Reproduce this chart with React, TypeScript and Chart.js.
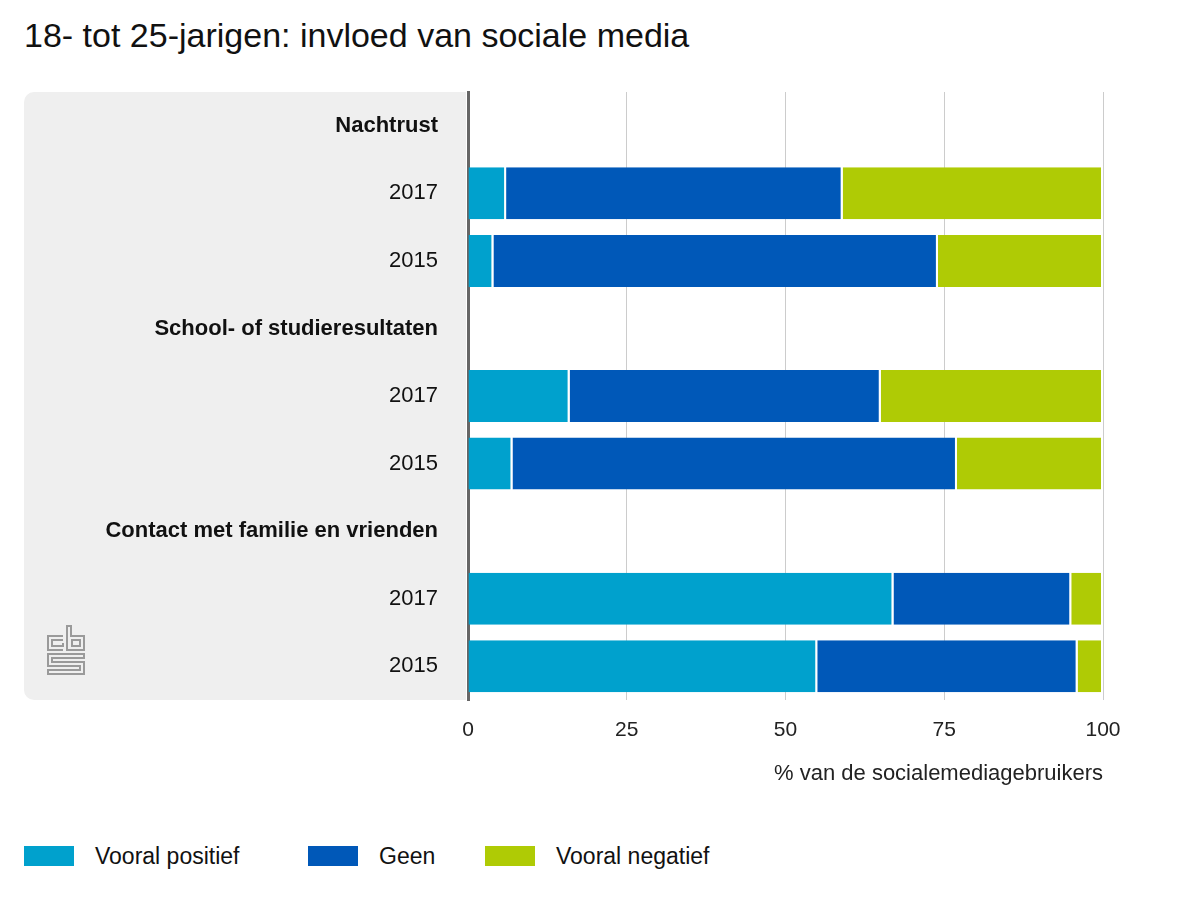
import React, { useEffect, useRef } from "react";
import { Chart, registerables } from "chart.js";

Chart.register(...registerables);

const categories = [
  "Nachtrust",
  "2017",
  "2015",
  "School- of studieresultaten",
  "2017",
  "2015",
  "Contact met familie en vrienden",
  "2017",
  "2015",
];
const headerRows = [true, false, false, true, false, false, true, false, false];
const vooralPositief = [null, 6, 4, null, 16, 7, null, 67, 55];
const geen = [null, 53, 70, null, 49, 70, null, 28, 41];
const vooralNegatief = [null, 41, 26, null, 35, 23, null, 5, 4];
const xTicks = [0, 25, 50, 75, 100];
const seriesNames = ["Vooral positief", "Geen", "Vooral negatief"];
const seriesColors = ["#00a1cd", "#0058b8", "#afcb05"];

const FONT = '"Liberation Sans", Arial, sans-serif';

const panelPlugin = {
  id: "panel",
  beforeDraw(chart: any) {
    const { ctx, chartArea } = chart;
    const x0 = 24;
    const x1 = chartArea.left - 2;
    const y0 = chartArea.top;
    const y1 = chartArea.bottom;
    const r = 10;
    ctx.save();
    ctx.fillStyle = "#efefef";
    ctx.beginPath();
    ctx.moveTo(x1, y0);
    ctx.lineTo(x0 + r, y0);
    ctx.arcTo(x0, y0, x0, y0 + r, r);
    ctx.lineTo(x0, y1 - r);
    ctx.arcTo(x0, y1, x0 + r, y1, r);
    ctx.lineTo(x1, y1);
    ctx.closePath();
    ctx.fill();

    // cbs logo
    const lx = 48;
    const ly = y1 - 74;
    ctx.strokeStyle = "#9a9a9a";
    ctx.lineWidth = 2;
    ctx.lineJoin = "miter";
    ctx.beginPath();
    // c
    ctx.moveTo(lx + 15, ly + 10);
    ctx.lineTo(lx, ly + 10);
    ctx.lineTo(lx, ly + 24);
    ctx.lineTo(lx + 15, ly + 24);
    ctx.moveTo(lx + 15, ly + 14);
    ctx.lineTo(lx + 4, ly + 14);
    ctx.lineTo(lx + 4, ly + 20);
    ctx.lineTo(lx + 15, ly + 20);
    ctx.lineTo(lx + 15, ly + 17);
    // b
    ctx.moveTo(lx + 19, ly);
    ctx.lineTo(lx + 19, ly + 24);
    ctx.lineTo(lx + 36, ly + 24);
    ctx.lineTo(lx + 36, ly + 10);
    ctx.lineTo(lx + 23, ly + 10);
    ctx.lineTo(lx + 23, ly);
    ctx.closePath();
    ctx.rect(lx + 24, ly + 14, 8, 6);
    // S
    ctx.moveTo(lx, ly + 28);
    ctx.lineTo(lx + 36, ly + 28);
    ctx.lineTo(lx + 36, ly + 32);
    ctx.lineTo(lx + 4, ly + 32);
    ctx.lineTo(lx + 4, ly + 36);
    ctx.lineTo(lx + 36, ly + 36);
    ctx.lineTo(lx + 36, ly + 48);
    ctx.lineTo(lx, ly + 48);
    ctx.lineTo(lx, ly + 44);
    ctx.lineTo(lx + 32, ly + 44);
    ctx.lineTo(lx + 32, ly + 40);
    ctx.lineTo(lx, ly + 40);
    ctx.closePath();
    ctx.stroke();
    ctx.restore();
  },
};

export default function App() {
  const canvasRef = useRef<HTMLCanvasElement | null>(null);

  useEffect(() => {
    if (!canvasRef.current) return;
    const values = [vooralPositief, geen, vooralNegatief];
    const chart = new Chart(canvasRef.current, {
      type: "bar",
      data: {
        labels: categories,
        datasets: values.map((d, i) => ({
          label: seriesNames[i],
          data: d as any,
          backgroundColor: seriesColors[i],
          borderColor: "#ffffff",
          borderWidth: { left: 0, right: 2, top: 0, bottom: 0 },
          borderSkipped: false,
          barPercentage: 0.77,
          categoryPercentage: 1,
        })),
      },
      options: {
        indexAxis: "y",
        responsive: false,
        animation: false,
        layout: { padding: { top: 92, right: 97, left: 0, bottom: 0 } },
        plugins: {
          legend: { display: false },
          tooltip: { enabled: false },
          title: { display: false },
        },
        scales: {
          x: {
            stacked: true,
            min: 0,
            max: 100,
            afterFit: (s: any) => {
              s.height = 100;
            },
            afterBuildTicks: (s: any) => {
              s.ticks = xTicks.map((v) => ({ value: v }));
            },
            grid: { color: "#cccccc", lineWidth: 1, drawTicks: false },
            border: { display: false },
            ticks: {
              padding: 18,
              color: "#222",
              font: { family: FONT, size: 21 },
            },
            title: {
              display: true,
              text: "% van de socialemediagebruikers",
              align: "end",
              color: "#222",
              font: { family: FONT, size: 22 },
              padding: { top: 0, bottom: 13 },
            },
          },
          y: {
            stacked: true,
            afterFit: (s: any) => {
              s.width = 468;
            },
            grid: { display: false, drawTicks: false },
            border: { display: true, color: "#666666", width: 3 },
            ticks: {
              padding: 30,
              color: "#111",
              autoSkip: false,
              font: (ctx: any) => ({
                family: FONT,
                size: 22,
                weight: headerRows[ctx.index] ? "bold" : "normal",
              }),
            },
          },
        },
      } as any,
      plugins: [panelPlugin],
    });
    return () => chart.destroy();
  }, []);

  const legendLeft = [24, 308, 485];

  return (
    <div
      style={{
        position: "absolute",
        left: 0,
        top: 0,
        width: 1200,
        height: 900,
        background: "#fff",
        fontFamily: FONT,
      }}
    >
      <div
        style={{
          position: "absolute",
          left: 24,
          top: 16,
          fontSize: 34,
          lineHeight: "38px",
          color: "#111",
          whiteSpace: "nowrap",
        }}
      >
        18- tot 25-jarigen: invloed van sociale media
      </div>
      <canvas
        ref={canvasRef}
        width={1200}
        height={800}
        style={{ position: "absolute", left: 0, top: 0, width: 1200, height: 800 }}
      />
      {seriesNames.map((name, i) => (
        <div
          key={name}
          style={{
            position: "absolute",
            left: legendLeft[i],
            top: 846,
            height: 20,
            display: "flex",
            alignItems: "center",
            whiteSpace: "nowrap",
          }}
        >
          <span
            style={{
              display: "inline-block",
              width: 50,
              height: 20,
              background: seriesColors[i],
              marginRight: 21,
            }}
          />
          <span style={{ fontSize: 23, color: "#111" }}>{name}</span>
        </div>
      ))}
    </div>
  );
}
